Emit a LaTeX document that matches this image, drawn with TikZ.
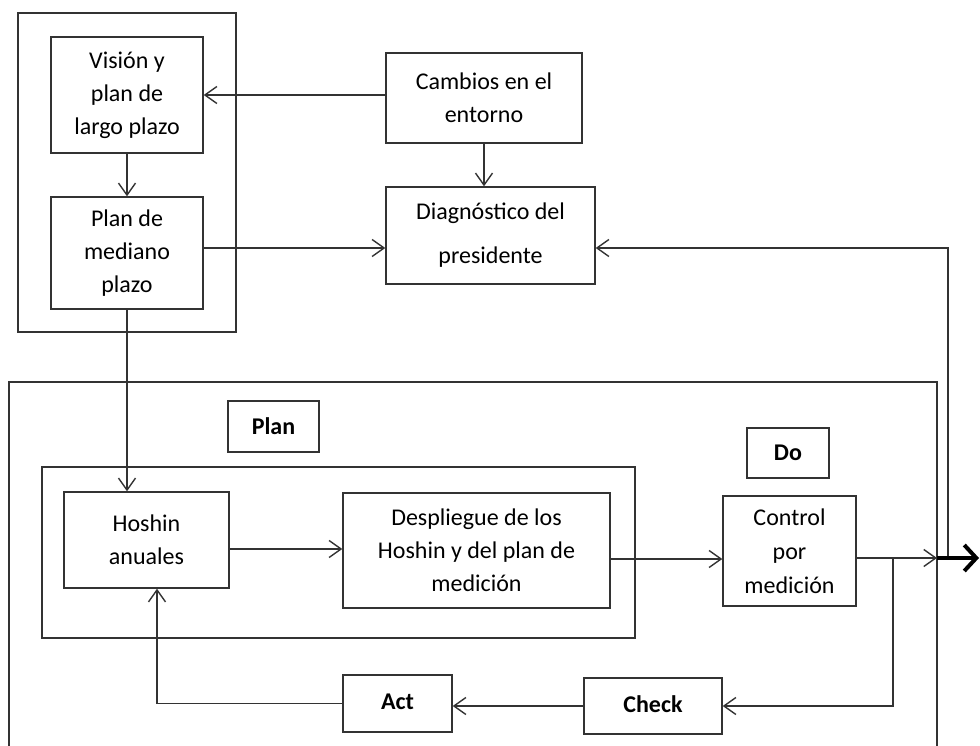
\documentclass[tikz,border=0pt]{standalone}
\usepackage{fontspec}
\setmainfont{Carlito}
\usetikzlibrary{arrows.meta,calc}
\begin{document}
\begin{tikzpicture}[x=1pt,y=-1pt,
  ln/.style={draw=black!80,line width=1.4pt},
  bx/.style={ln,rectangle,inner sep=0pt,align=center,font=\fontsize{24}{33}\selectfont},
  lbl/.style={ln,rectangle,inner sep=0pt,align=center,font=\fontsize{24}{33}\selectfont\bfseries},
  arr/.style={ln,-{Straight Barb[length=12pt,width=17pt,line width=1.4pt]}},
  thk/.style={draw=black,line width=4pt,-{Straight Barb[length=12pt,width=26pt,line width=4pt]}}
]
\useasboundingbox (0,0) rectangle (980,746);
% containers
\node[ln,rectangle,minimum width=218pt,minimum height=319pt] (outerTL) at (127,172.5) {};
\draw[ln] (9,746) -- (9,382) -- (937,382) -- (937,746);
\node[ln,rectangle,minimum width=593pt,minimum height=171pt] (innerplan) at (338.5,552.5) {};
% boxes
\node[bx,minimum width=152pt,minimum height=116pt] (vision) at (127,95) {Visión y\\plan de\\largo plazo};
\node[bx,minimum width=152pt,minimum height=112pt] (pm) at (127,253) {Plan de\\mediano\\plazo};
\node[bx,minimum width=196pt,minimum height=90pt] (cambios) at (484,98) {Cambios en el\\entorno};
\node[bx,minimum width=209pt,minimum height=97pt,font=\fontsize{24}{44}\selectfont] (diag) at (490.5,235.5) {Diagnóstico del\\presidente};
\node[lbl,minimum width=91pt,minimum height=51pt] (planlbl) at (273.5,426.5) {Plan};
\node[bx,minimum width=165pt,minimum height=96pt] (hoshin) at (146.5,540) {Hoshin\\anuales};
\node[bx,minimum width=267pt,minimum height=115pt] (desp) at (476.5,550.5) {Despliegue de los\\Hoshin y del plan de\\medición};
\node[bx,minimum width=133pt,minimum height=110pt,font=\fontsize{24}{34}\selectfont] (control) at (789.5,551) {Control\\por\\medición};
\node[lbl,minimum width=82pt,minimum height=50pt] (dolbl) at (788,453) {Do};
\node[lbl,minimum width=138pt,minimum height=56pt,text depth=3pt] (check) at (653,706) {Check};
\node[lbl,minimum width=109pt,minimum height=57pt,text depth=3pt] (act) at (397.5,703.5) {Act};
% helper coordinates
\coordinate (edge) at (937,558);
\coordinate (jr) at (948,558);
\coordinate (br) at (893,558);
\coordinate (tipout) at (979,558);
% connectors
\draw[arr] (vision.south) -- (pm.north);
\draw[arr] (cambios.west |- vision.east) -- (vision.east);
\draw[arr] (cambios.south) -- (cambios.south |- diag.north);
\draw[arr] (pm.east |- 0,248) -- (diag.west |- 0,248);
\draw[arr] (jr) -- (jr |- 0,248) -- (diag.east |- 0,248);
\draw[arr] (pm.south) -- (pm.south |- hoshin.north);
\draw[arr] (hoshin.east |- 0,549) -- (desp.west |- 0,549);
\draw[arr] (desp.east |- 0,559) -- (control.west |- 0,559);
\draw[arr] (control.east |- edge) -- (edge);
\draw[thk] (edge) -- (tipout);
\draw[arr] (br) -- (br |- check.east) -- (check.east);
\draw[arr] (check.west) -- (check.west -| act.east);
\draw[arr] (act.west) -| ($(hoshin.south)+(10.5,0)$);
\end{tikzpicture}
\end{document}
